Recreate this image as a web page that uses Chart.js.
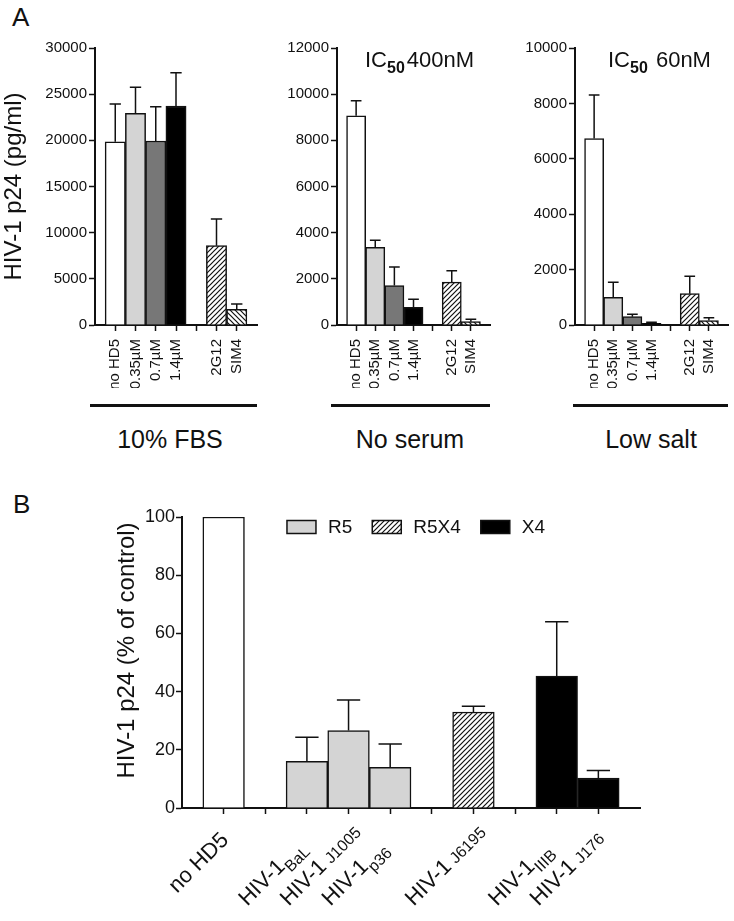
<!DOCTYPE html>
<html>
<head>
<meta charset="utf-8">
<script src="https://cdn.jsdelivr.net/npm/chart.js@4.4.0/dist/chart.umd.min.js"></script>
<style>
  body { margin: 0; background: #fff; font-family: "Liberation Sans", Arial, sans-serif; }
  #page { position: relative; width: 734px; height: 921px; overflow: hidden; background: #fff; }
  canvas { position: absolute; }
  .txt { position: absolute; color: #111; white-space: nowrap; line-height: 1; }
  .panel { font-size: 26px; }
  .group { font-size: 25px; transform: translateX(-50%); }
  .ic { font-size: 22px; }
  .ic b { font-size: 16px; position: relative; top: 6px; margin-right: 2px; }
  .rule { position: absolute; height: 3px; background: #111; }
</style>
</head>
<body>
<div id="page">
  <div class="txt panel" style="left:12px; top:4px;">A</div>
  <div class="txt panel" style="left:13px; top:491px;">B</div>

  <canvas class="fbs" width="262" height="388" style="left:0; top:0;"></canvas>
  <canvas class="no-serum" width="233" height="388" style="left:262px; top:0;"></canvas>
  <canvas class="low-salt" width="239" height="388" style="left:495px; top:0;"></canvas>

  <div class="txt ic" style="left:365px; top:49px;">IC<b>50</b>400nM</div>
  <div class="txt ic" style="left:608px; top:49px;">IC<b>50</b> 60nM</div>

  <div class="rule" style="left:90px; top:404px; width:167px;"></div>
  <div class="rule" style="left:331px; top:404px; width:159px;"></div>
  <div class="rule" style="left:573px; top:404px; width:155px;"></div>
  <div class="txt group" style="left:170px; top:427px;">10% FBS</div>
  <div class="txt group" style="left:410px; top:427px;">No serum</div>
  <div class="txt group" style="left:651px; top:427px;">Low salt</div>

  <canvas class="strains" width="734" height="451" style="left:0; top:470px;"></canvas>
</div>

<script>
/*============================
PANEL A / PANEL B
=============================*/

Chart.defaults.font.family = '"Liberation Sans", Arial, sans-serif';
Chart.defaults.color = '#111';

// panel A - empty labels are the gaps and the two axis ends
let doseLabels = ['', 'no HD5', '0.35µM', '0.7µM', '1.4µM', '', '2G12', 'SIM4', ''];

let fbsMeans = [null, 19850, 22930, 19930, 23720, null, 8590, 1700, null];
let fbsErrors = [null, 4090, 2810, 3720, 3610, null, 2890, 570, null];

let noSerumMeans = [null, 9060, 3360, 1710, 770, null, 1860, 145, null];
let noSerumErrors = [null, 650, 310, 800, 350, null, 490, 105, null];

let lowSaltMeans = [null, 6730, 1000, 300, 60, null, 1130, 160, null];
let lowSaltErrors = [null, 1570, 540, 90, 40, null, 630, 100, null];

// panel B
let strainNames = ['', 'no HD5', '', 'HIV-1', 'HIV-1', 'HIV-1', '', 'HIV-1', '', 'HIV-1', 'HIV-1', ''];
let strainSubs = ['', '', '', 'BaL', 'J1005', 'p36', '', 'J6195', '', 'IIIB', 'J176', ''];

let controlPct = [null, 100, null, null, null, null, null, null, null, null, null, null];
let r5Pct = [null, null, null, 16.0, 26.6, 14.0, null, null, null, null, null, null];
let r5Errors = [null, null, null, 8.3, 10.5, 8.0, null, null, null, null, null, null];
let r5x4Pct = [null, null, null, null, null, null, null, 33.0, null, null, null, null];
let r5x4Errors = [null, null, null, null, null, null, null, 2.0, null, null, null, null];
let x4Pct = [null, null, null, null, null, null, null, null, null, 45.3, 10.3, null];
let x4Errors = [null, null, null, null, null, null, null, null, null, 18.7, 2.6, null];


function makeHatch(size, forward) {
    let tile = document.createElement('canvas');
    tile.width = size;
    tile.height = size;
    let g = tile.getContext('2d');
    g.fillStyle = '#fff';
    g.fillRect(0, 0, size, size);
    g.strokeStyle = '#111';
    g.lineWidth = 1.2;
    g.beginPath();
    if (forward) {
        g.moveTo(-1, size + 1); g.lineTo(size + 1, -1);
        g.moveTo(-1, 1); g.lineTo(1, -1);
        g.moveTo(size - 1, size + 1); g.lineTo(size + 1, size - 1);
    } else {
        g.moveTo(-1, -1); g.lineTo(size + 1, size + 1);
        g.moveTo(size - 1, -1); g.lineTo(size + 1, 1);
        g.moveTo(-1, size - 1); g.lineTo(1, size + 1);
    }
    g.stroke();
    return g.createPattern(tile, 'repeat');
}

let hatchUp = makeHatch(5, true);
let hatchDown = makeHatch(5, false);


// upper error bars with a cap
const errorBars = {
    id: 'errorBars',
    afterDatasetsDraw(chart) {
        let ctx = chart.ctx;
        let yScale = chart.scales.y;
        ctx.save();
        ctx.strokeStyle = '#111';
        ctx.lineWidth = 1.5;
        chart.data.datasets.forEach((ds, i) => {
            if (!ds.errors) return;
            chart.getDatasetMeta(i).data.forEach((bar, j) => {
                let v = ds.data[j], e = ds.errors[j];
                if (v == null || e == null) return;
                let top = yScale.getPixelForValue(v + e);
                let half = bar.width * 0.28;
                ctx.beginPath();
                ctx.moveTo(bar.x, bar.y);
                ctx.lineTo(bar.x, top);
                ctx.moveTo(bar.x - half, top);
                ctx.lineTo(bar.x + half, top);
                ctx.stroke();
            });
        });
        ctx.restore();
    }
};

function endTickColor(ctx) {
    let n = ctx.scale.ticks.length;
    return (ctx.index === 0 || ctx.index === n - 1) ? 'rgba(0,0,0,0)' : '#111';
}

// the empty end labels should not squeeze the category axis
function fitCategoryAxis(height) {
    return s => {
        s.height = height;
        s.paddingLeft = 0;
        s.paddingRight = 0;
    };
}


function displayDoseChart(selector, means, errors, maxY, step, yTitle, yWidth, padRight) {
    let doseChart = document.querySelector(selector).getContext('2d');
    return new Chart(doseChart, {
        type: 'bar',
        data: {
            labels: doseLabels,
            datasets: [{
                data: means,
                errors: errors,
                backgroundColor: ['#fff', '#fff', '#d4d4d4', '#777777', '#000', '#fff', hatchUp, hatchDown, '#fff'],
                borderColor: '#111',
                borderWidth: 1.5,
                barPercentage: 1,
                categoryPercentage: 1
            }]
        },
        options: {
            responsive: false,
            animation: false,
            devicePixelRatio: 1,
            events: [],
            layout: { padding: { top: 48, right: padRight, bottom: 0, left: 0 } },
            plugins: {
                legend: { display: false },
                tooltip: { enabled: false }
            },
            scales: {
                x: {
                    offset: false,
                    grid: { offset: false, drawOnChartArea: false, tickLength: 6, tickWidth: 1.5, tickColor: endTickColor },
                    border: { color: '#111', width: 2 },
                    ticks: { autoSkip: false, minRotation: 90, maxRotation: 90, padding: 8, font: { size: 15 } },
                    afterFit: fitCategoryAxis(63)
                },
                y: {
                    min: 0,
                    max: maxY,
                    grid: { drawOnChartArea: false, tickLength: 6, tickWidth: 1.5, tickColor: '#111' },
                    border: { color: '#111', width: 2 },
                    ticks: { stepSize: step, padding: 2, font: { size: 15 }, callback: v => String(v) },
                    title: { display: !!yTitle, text: yTitle, font: { size: 24 }, padding: 0 },
                    afterFit: s => { s.width = yWidth; }
                }
            }
        },
        plugins: [errorBars]
    });
}

displayDoseChart('.fbs', fbsMeans, fbsErrors, 30000, 5000, 'HIV-1 p24 (pg/ml)', 95, 5);
displayDoseChart('.no-serum', noSerumMeans, noSerumErrors, 12000, 2000, '', 75, 5);
displayDoseChart('.low-salt', lowSaltMeans, lowSaltErrors, 10000, 2000, '', 80, 6);


// panel B: strain labels with subscripts, slanted at the category ticks
const loweredSubs = ['BaL', 'p36', 'IIIB'];
const MAIN_FONT = '22px "Liberation Sans", Arial, sans-serif';
const SUB_FONT = '16px "Liberation Sans", Arial, sans-serif';

const strainTickLabels = {
    id: 'strainTickLabels',
    afterDraw(chart) {
        let ctx = chart.ctx;
        let xScale = chart.scales.x;
        ctx.save();
        ctx.fillStyle = '#111';
        ctx.textBaseline = 'alphabetic';
        ctx.textAlign = 'left';
        strainNames.forEach((name, i) => {
            if (!name) return;
            let sub = strainSubs[i];
            let low = loweredSubs.includes(sub);
            ctx.font = MAIN_FONT;
            let wMain = ctx.measureText(name).width;
            // with a strain subscript the "HIV-1" part ends further back along the slant
            let mainEnd = sub ? -38 : 0;
            ctx.save();
            ctx.translate(xScale.getPixelForTick(i) + 6, xScale.top + 33);
            ctx.rotate(-Math.PI / 4);
            ctx.fillText(name, mainEnd - wMain, 0);
            if (sub) {
                ctx.font = SUB_FONT;
                ctx.fillText(sub, mainEnd + (low ? 0 : 5), low ? 7 : 0);
            }
            ctx.restore();
        });
        // y title, a little above the middle of the axis as in the figure
        let area = chart.chartArea;
        ctx.translate(127, (area.top + area.bottom) / 2 - 12);
        ctx.rotate(-Math.PI / 2);
        ctx.font = '24px "Liberation Sans", Arial, sans-serif';
        ctx.textAlign = 'center';
        ctx.textBaseline = 'middle';
        ctx.fillText('HIV-1 p24 (% of control)', 0, 0);
        ctx.restore();
    }
};

// legend row inside the plot, near its top edge
const strainLegend = {
    id: 'strainLegend',
    afterDraw(chart) {
        let ctx = chart.ctx;
        let area = chart.chartArea;
        let items = chart.data.datasets.filter(ds => ds.inLegend);
        let boxW = 29, boxH = 13, textGap = 12, itemGap = 20;
        ctx.save();
        ctx.font = '19px "Liberation Sans", Arial, sans-serif';
        let widths = items.map(ds => boxW + textGap + ctx.measureText(ds.label).width);
        let total = widths.reduce((a, b) => a + b, 0) + itemGap * (items.length - 1);
        let x = (area.left + area.right) / 2 + 5 - total / 2;
        let yMid = area.top + 10;
        items.forEach((ds, k) => {
            ctx.fillStyle = ds.backgroundColor;
            ctx.fillRect(x, yMid - boxH / 2, boxW, boxH);
            ctx.strokeStyle = '#111';
            ctx.lineWidth = 1.5;
            ctx.strokeRect(x, yMid - boxH / 2, boxW, boxH);
            ctx.fillStyle = '#111';
            ctx.textAlign = 'left';
            ctx.textBaseline = 'middle';
            ctx.fillText(ds.label, x + boxW + textGap, yMid + 1);
            x += widths[k] + itemGap;
        });
        ctx.restore();
    }
};

function displayStrainChart() {
    let strainChart = document.querySelector('.strains').getContext('2d');
    let strainBarChart;
    strainBarChart = new Chart(strainChart, {
        type: 'bar',
        data: {
            labels: strainNames.map((n, i) => (n + ' ' + strainSubs[i]).trim()),
            datasets: [{
                label: 'no HD5',
                data: controlPct,
                backgroundColor: '#fff'
            }, {
                label: 'R5',
                data: r5Pct,
                errors: r5Errors,
                backgroundColor: '#d4d4d4',
                inLegend: true
            }, {
                label: 'R5X4',
                data: r5x4Pct,
                errors: r5x4Errors,
                backgroundColor: hatchUp,
                inLegend: true
            }, {
                label: 'X4',
                data: x4Pct,
                errors: x4Errors,
                backgroundColor: '#000',
                inLegend: true
            }]
        },
        options: {
            responsive: false,
            animation: false,
            devicePixelRatio: 1,
            events: [],
            layout: { padding: { top: 47, right: 94, bottom: 0, left: 0 } },
            datasets: {
                bar: { borderColor: '#111', borderWidth: 1.5, barPercentage: 1, categoryPercentage: 1 }
            },
            plugins: {
                tooltip: { enabled: false },
                legend: { display: false }
            },
            scales: {
                x: {
                    stacked: true,
                    offset: false,
                    grid: { offset: false, drawOnChartArea: false, tickLength: 6, tickWidth: 1.5, tickColor: endTickColor },
                    border: { color: '#111', width: 2 },
                    ticks: { display: false, autoSkip: false },
                    afterFit: fitCategoryAxis(113)
                },
                y: {
                    min: 0,
                    max: 100,
                    grid: { drawOnChartArea: false, tickLength: 6, tickWidth: 1.5, tickColor: '#111' },
                    border: { color: '#111', width: 2 },
                    ticks: { stepSize: 20, padding: 1, font: { size: 18 } },
                    afterFit: s => { s.width = 182; }
                }
            }
        },
        plugins: [errorBars, strainTickLabels, strainLegend]
    });
}
displayStrainChart();
</script>
</body>
</html>
